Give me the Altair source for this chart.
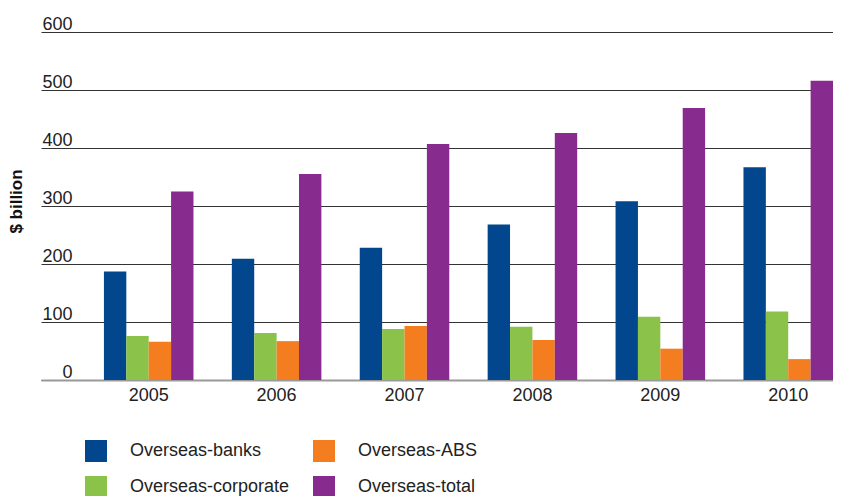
import altair as alt
import pandas as pd

years = ["2005", "2006", "2007", "2008", "2009", "2010"]
series = ["Overseas-banks", "Overseas-corporate", "Overseas-ABS", "Overseas-total"]
colors = ["#02468E", "#8BC34A", "#F47D20", "#872B8E"]

banks = [187, 209, 228, 268, 308, 367]
corporate = [76, 81, 88, 92, 109, 118]
abs_ = [66, 67, 93, 69, 54, 36]
total = [325, 355, 407, 426, 469, 516]
y_ticks = [0, 100, 200, 300, 400, 500, 600]

vals = {"Overseas-banks": banks, "Overseas-corporate": corporate,
        "Overseas-ABS": abs_, "Overseas-total": total}
rows = []
for s in series:
    for yr, v in zip(years, vals[s]):
        rows.append({"year": yr, "series": s, "value": v})
df = pd.DataFrame(rows)

FONT = "Liberation Sans"
FS = 18

chart = alt.Chart(df).mark_bar().encode(
    x=alt.X("year:N", sort=years,
            scale=alt.Scale(paddingInner=0.3, paddingOuter=0.246, align=1),
            axis=alt.Axis(title=None, labelAngle=0, ticks=False, tickSize=0,
                          labelPadding=6, labelFontSize=FS, labelColor="#222",
                          labelFont=FONT, domainColor="#999", domainWidth=2)),
    xOffset=alt.XOffset("series:N", sort=series,
                        scale=alt.Scale(domain=series, paddingInner=0, paddingOuter=0)),
    y=alt.Y("value:Q", scale=alt.Scale(domain=[0, 600], nice=False),
            axis=alt.Axis(title="$ billion", values=y_ticks, ticks=False, tickSize=0,
                          domain=False, labelAlign="right", labelPadding=-31,
                          labelBaseline="alphabetic", labelOffset=-3,
                          labelFlush=False, labelOverlap=False,
                          labelFontSize=FS, labelColor="#222", labelFont=FONT,
                          gridColor="#333", gridWidth=1.2,
                          titleFont=FONT, titleFontSize=17, titleFontWeight="bold",
                          titleColor="#111", titleAngle=270, titleBaseline="bottom",
                          titleAlign="center", titleX=-16, titleY=169)),
    color=alt.Color("series:N",
                    scale=alt.Scale(domain=series, range=colors),
                    legend=alt.Legend(title=None, orient="none", legendX=44, legendY=408,
                                      columns=2, columnPadding=23, rowPadding=14,
                                      symbolType="square", symbolSize=484,
                                      symbolStrokeWidth=0, labelOffset=23,
                                      labelFontSize=FS, labelFont=FONT,
                                      labelColor="#222", labelLimit=300, padding=0)),
).properties(
    width=792, height=348,
    padding={"left": 33, "top": 24, "right": 0, "bottom": 120},
    autosize=alt.AutoSizeParams(type="none"),
).configure_view(strokeWidth=0)

chart.save("out.html", embed_options={"renderer": "svg", "actions": False})
